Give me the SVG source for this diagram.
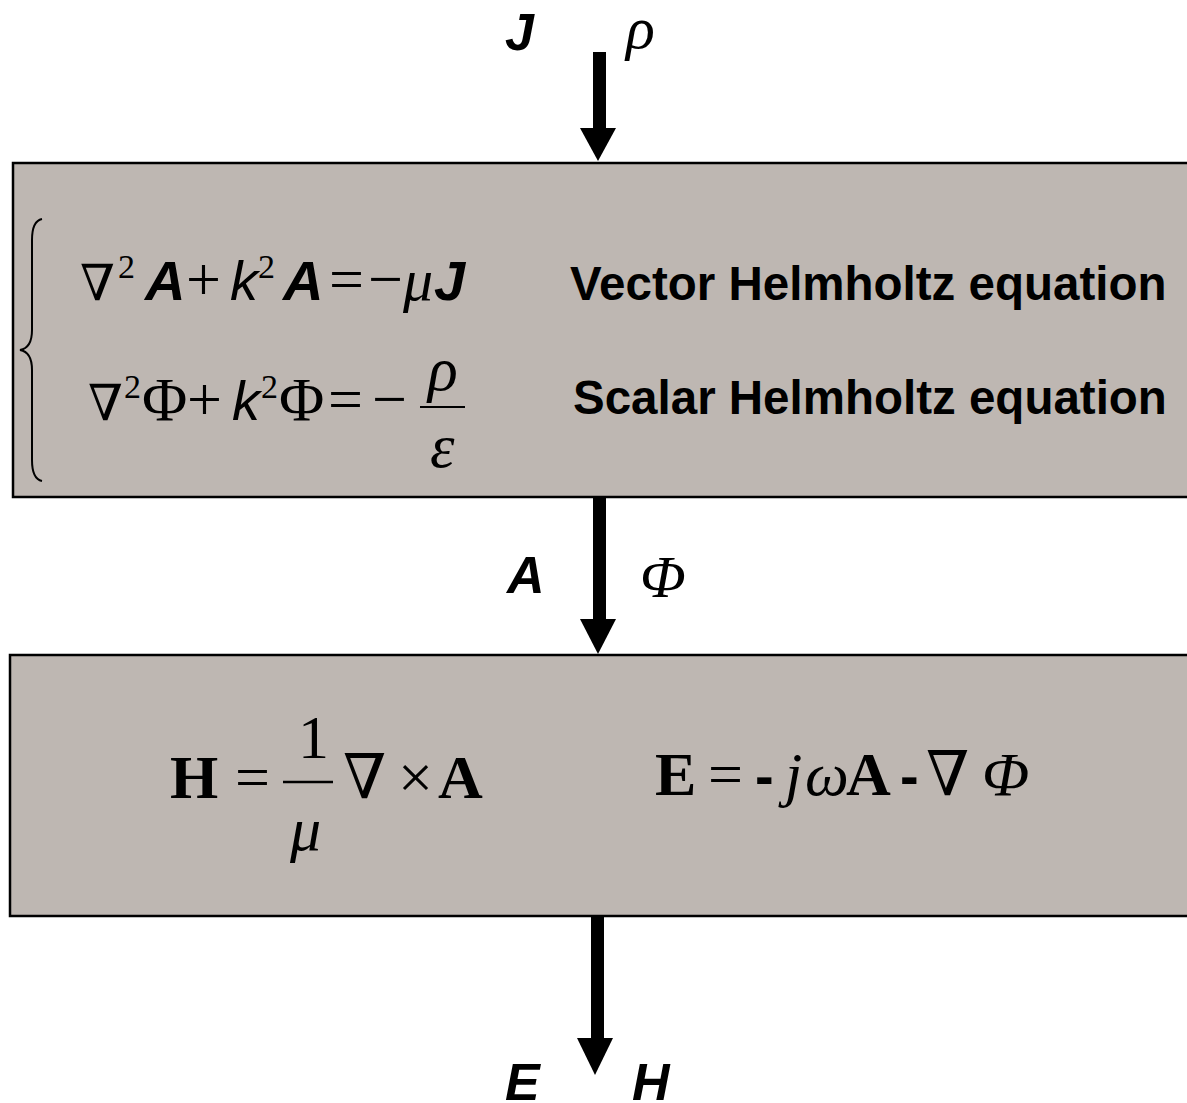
<svg xmlns="http://www.w3.org/2000/svg" width="1187" height="1103" viewBox="0 0 1187 1103">
<style>
.box{fill:#BEB7B2;stroke:#000;stroke-width:2.5}
.lab{font-family:"Liberation Sans",Arial,sans-serif;font-weight:bold;font-style:italic;font-size:52px;fill:#000}
.ser{font-family:"Liberation Serif","DejaVu Serif",serif;fill:#000}
.m1{font-size:56px}
.m0{font-size:50px}
.sup{font-size:34px}
.ai{font-family:"Liberation Sans",Arial,sans-serif;font-style:italic;font-size:56px;font-weight:bold}
.ki{font-family:"Liberation Sans",Arial,sans-serif;font-style:italic;font-size:56px}
.it{font-style:italic}
.bd{font-weight:bold}
.m2{font-size:62px}
.txt{font-family:"Liberation Sans",Arial,sans-serif;font-weight:bold;font-size:47.5px;fill:#000}
.arr{fill:#000}
</style>
<g id="connectors">
  <g id="arrow-in"><rect class="arr" x="593" y="52" width="13" height="77"/><polygon class="arr" points="580,128 616,128 598,161"/></g>
  <g id="arrow-mid"><rect class="arr" x="593" y="497" width="13" height="123"/><polygon class="arr" points="580,619 616,619 598,654"/></g>
  <g id="arrow-out"><rect class="arr" x="591" y="916" width="13" height="123"/><polygon class="arr" points="577,1038 613,1038 595,1075"/></g>
</g>
<g id="label-J-rho">
  <text class="lab" x="505" y="50">J</text>
  <text class="ser it" style="font-size:60px" x="626" y="48">ρ</text>
</g>
<g id="label-A-Phi">
  <text class="lab" x="507" y="593">A</text>
  <text class="ser it" style="font-size:60px" x="640" y="597">Φ</text>
</g>
<g id="label-E-H">
  <text class="lab" x="505" y="1100">E</text>
  <text class="lab" x="632" y="1100">H</text>
</g>
<g id="helmholtz-box">
  <rect class="box" x="13" y="163" width="1200" height="334"/>
  <path d="M42 219 Q32 221 32 240 L32 330 Q32 348 20 350 Q32 352 32 370 L32 460 Q32 479 42 481" fill="none" stroke="#000" stroke-width="2"/>
  <text class="ser m0" x="80" y="300">∇</text>
  <text class="ser sup" x="118" y="278">2</text>
  <text class="ai" x="145" y="300">A</text>
  <text class="ser m2" x="186" y="300">+</text>
  <text class="ki" x="230" y="300">k</text>
  <text class="ser sup" x="258" y="278">2</text>
  <text class="ai" x="283" y="300">A</text>
  <text class="ser m2" x="329" y="300">=</text>
  <text class="ser m2" x="368" y="300">−</text>
  <text class="ser it" style="font-size:60px" x="403" y="300">μ</text>
  <text class="ai" x="434" y="300">J</text>
  <text class="txt" x="570" y="300">Vector Helmholtz equation</text>
  <text class="ser m0" x="88" y="420">∇</text>
  <text class="ser sup" x="124" y="398">2</text>
  <text class="ser m2" x="142" y="420">Φ</text>
  <text class="ser m2" x="187" y="420">+</text>
  <text class="ki" x="232" y="420">k</text>
  <text class="ser sup" x="261" y="398">2</text>
  <text class="ser m2" x="279" y="420">Φ</text>
  <text class="ser m2" x="328" y="420">=</text>
  <text class="ser m2" x="372" y="420">−</text>
  <line x1="420" y1="407" x2="465" y2="407" stroke="#000" stroke-width="2"/>
  <text class="ser it m2" x="428" y="390">ρ</text>
  <text class="ser it m2" x="430" y="467">ε</text>
  <text class="txt" x="573" y="414">Scalar Helmholtz equation</text>
</g>
<g id="field-box">
  <rect class="box" x="10" y="655" width="1200" height="261"/>
  <text class="ser bd m2" x="170" y="798">H</text>
  <text class="ser m2" x="235" y="798">=</text>
  <line x1="283" y1="782" x2="333" y2="782" stroke="#000" stroke-width="2.5"/>
  <text class="ser m2" x="298" y="758">1</text>
  <text class="ser it m2" x="290" y="850">μ</text>
  <text class="ser m2" x="343" y="798">∇</text>
  <text class="ser m2" x="398" y="798">×</text>
  <text class="ser bd m2" x="438" y="798">A</text>
  <text class="ser bd m2" x="655" y="795">E</text>
  <text class="ser m2" x="708" y="795">=</text>
  <text class="txt" x="755" y="795" style="font-size:56px">-</text>
  <text class="ser it m2" x="785" y="795">j</text>
  <text class="ser it m2" x="805" y="795">ω</text>
  <text class="ser bd m2" x="846" y="795">A</text>
  <text class="txt" x="900" y="795" style="font-size:56px">-</text>
  <text class="ser m2" x="926" y="795">∇</text>
  <text class="ser it m2" x="982" y="795">Φ</text>
</g>
</svg>
